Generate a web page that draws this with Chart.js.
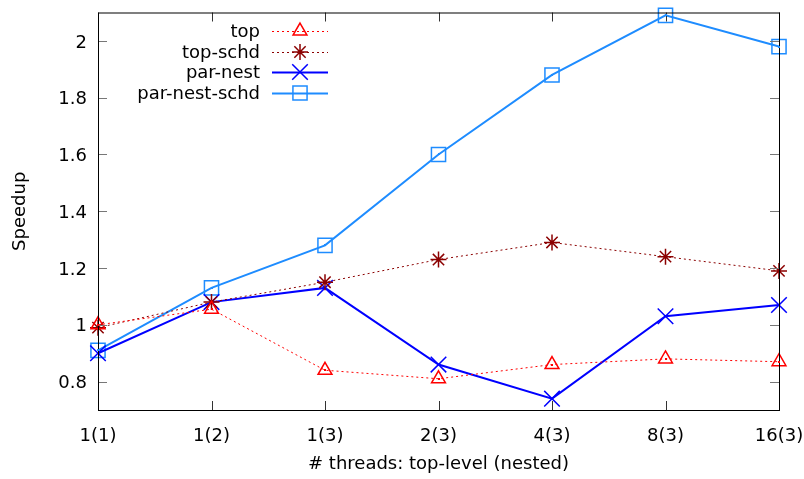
<!DOCTYPE html>
<html><head><meta charset="utf-8">
<script src="https://cdn.jsdelivr.net/npm/chart.js@4/dist/chart.umd.min.js"></script>
<style>html,body{margin:0;padding:0;background:#fff}#w{width:804px;height:479px}</style>
</head><body><div id="w"><canvas id="c"></canvas></div>
<script>
const categories = ["1(1)","1(2)","1(3)","2(3)","4(3)","8(3)","16(3)"];
const topVals = [1.00,1.055,0.84,0.81,0.86,0.88,0.87];
const topSchd = [0.99,1.08,1.15,1.23,1.29,1.24,1.19];
const parNest = [0.90,1.08,1.13,0.86,0.74,1.03,1.07];
const parNestSchd = [0.91,1.13,1.28,1.60,1.88,2.09,1.98];
const yTicks = [0.8,1.0,1.2,1.4,1.6,1.8,2.0];

const FONT = "'DejaVu Sans', sans-serif";
const FS = 18;
const series = [
  {label:"top", data:topVals, color:"#ff0000", dash:[2,3], width:1, style:"triangle", r:8},
  {label:"top-schd", data:topSchd, color:"#8b0000", dash:[2,3], width:1, style:"star", r:8},
  {label:"par-nest", data:parNest, color:"#0000ff", dash:[], width:2, style:"crossRot", r:11},
  {label:"par-nest-schd", data:parNestSchd, color:"#1e8cff", dash:[], width:2, style:"rect", r:10}
];

const framePlugin = {
  id:"frame",
  afterDatasetsDraw(chart){
    const ctx = chart.ctx, a = chart.chartArea;
    const xs = chart.scales.x, ys = chart.scales.y;
    ctx.save();
    ctx.lineWidth=1;
    ctx.strokeStyle="#777";
    ctx.beginPath();
    yTicks.forEach(v=>{
      const y=Math.round(ys.getPixelForValue(v))+0.5;
      ctx.moveTo(a.left,y); ctx.lineTo(a.left+9,y);
      ctx.moveTo(a.right,y); ctx.lineTo(a.right-9,y);
    });
    ctx.stroke();
    ctx.strokeStyle="#333";
    ctx.beginPath();
    categories.forEach((c,i)=>{
      const x=Math.round(xs.getPixelForValue(i))+0.5;
      ctx.moveTo(x,a.bottom); ctx.lineTo(x,a.bottom-9);
      ctx.moveTo(x,a.top); ctx.lineTo(x,a.top+9);
    });
    ctx.stroke();
    ctx.strokeStyle="#000";
    ctx.strokeRect(a.left+0.5, a.top+0.5, a.right-a.left, a.bottom-a.top);
    // small dots in the centre of open markers
    chart.data.datasets.forEach((d,di)=>{
      const s=series[di];
      if(s.style!=="triangle" && s.style!=="rect") return;
      ctx.fillStyle=s.color;
      chart.getDatasetMeta(di).data.forEach(p=>{ctx.fillRect(Math.round(p.x)-1,Math.round(p.y)-1,2,2);});
    });
    // legend
    ctx.font = FS+"px "+FONT;
    ctx.textAlign="right"; ctx.textBaseline="middle";
    const rows=[31,52,72,93];
    series.forEach((s,i)=>{
      const y=rows[i];
      ctx.fillStyle="#000";
      ctx.fillText(s.label,260,y+1);
      ctx.beginPath();
      ctx.setLineDash(s.dash); ctx.strokeStyle=s.color; ctx.lineWidth=s.width;
      ctx.moveTo(272,y+0.5); ctx.lineTo(328,y+0.5); ctx.stroke();
      ctx.setLineDash([]);
      ctx.lineWidth=1.5; ctx.fillStyle="rgba(0,0,0,0)"; ctx.strokeStyle=s.color;
      Chart.helpers.drawPoint(ctx,{pointStyle:s.style,radius:s.r,rotation:0,borderWidth:1.5},300,y);
    });
    ctx.restore();
  }
};

new Chart(document.getElementById("c"),{
  type:"line",
  data:{labels:categories, datasets:series.map(s=>({
    label:s.label, data:s.data, borderColor:s.color, backgroundColor:"rgba(0,0,0,0)",
    borderWidth:s.width, borderDash:s.dash, pointStyle:s.style, pointRadius:s.r,
    pointBorderColor:s.color, pointBorderWidth:1.5, pointBackgroundColor:"rgba(0,0,0,0)",
    tension:0, fill:false, clip:false
  }))},
  options:{
    responsive:true, maintainAspectRatio:false, animation:false,
    layout:{padding:{left:0,right:25,top:10,bottom:0}},
    plugins:{legend:{display:false}, tooltip:{enabled:false}},
    scales:{
      x:{type:"category", offset:false,
        grid:{display:false, drawTicks:false}, border:{display:false},
        ticks:{color:"#000", font:{family:FONT,size:FS}, padding:16, maxRotation:0, autoSkip:false},
        title:{display:true, text:"# threads: top-level (nested)", color:"#000", font:{family:FONT,size:FS}, padding:{top:6,bottom:4}},
        afterFit(s){s.height=69; s.paddingLeft=0; s.paddingRight=0;}
      },
      y:{min:0.7,max:2.1,
        grid:{display:false, drawTicks:false}, border:{display:false},
        afterBuildTicks(s){s.ticks=yTicks.map(v=>({value:v}));},
        ticks:{color:"#000", font:{family:FONT,size:FS}, padding:11, labelOffset:2, callback:v=>String(Math.round(v*10)/10)},
        title:{display:true, text:"Speedup", color:"#000", font:{family:FONT,size:FS}, padding:{top:10,bottom:0}},
        afterFit(s){s.width=98; s.paddingTop=0; s.paddingBottom=0;}
      }
    }
  },
  plugins:[framePlugin]
});
</script></body></html>
